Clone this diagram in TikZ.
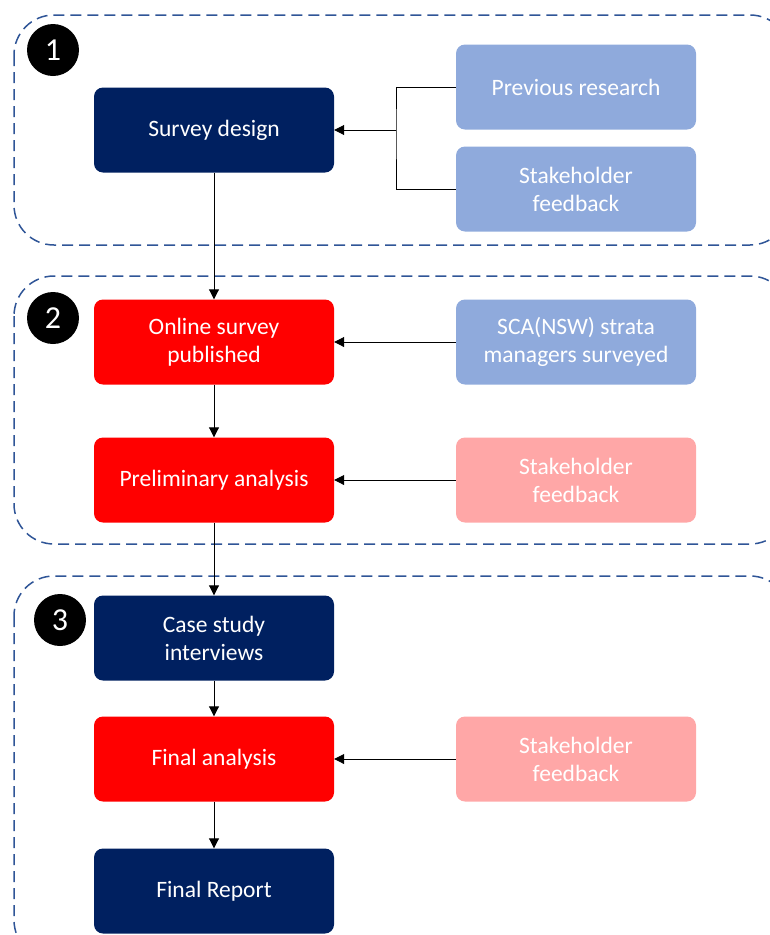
\documentclass[tikz,border=0pt]{standalone}
\usepackage{fontspec}
\setmainfont{Carlito}
\usetikzlibrary{arrows.meta}
\definecolor{navy}{HTML}{002060}
\definecolor{lblue}{HTML}{8FAADC}
\definecolor{lred}{HTML}{FFA7A7}
\definecolor{dashblue}{HTML}{2F5597}
\tikzset{
  box/.style={rounded corners=9pt, minimum width=240pt, minimum height=85pt, text=white, align=center, inner sep=0pt, font=\fontsize{23.5}{28}\selectfont},
  navybox/.style={box, fill=navy},
  redbox/.style={box, fill=red},
  bluebox/.style={box, fill=lblue},
  pinkbox/.style={box, fill=lred},
  numdot/.style={circle, fill=black, minimum size=52pt, inner sep=0pt, text=white, font=\fontsize{32}{34}\selectfont},
  group/.style={draw=dashblue, line width=1.5pt, dash pattern=on 11pt off 6pt, rounded corners=40pt},
  flow/.style={draw=black, line width=0.9pt, -{Triangle[length=10pt,width=10pt]}},
  plain/.style={draw=black, line width=0.8pt}
}
\begin{document}
\begin{tikzpicture}[x=1pt,y=-1pt]
\useasboundingbox (0,0) rectangle (770,935);
% dashed groups
\draw[group] (14,15) rectangle (790,245);
\draw[group] (14,276) rectangle (790,544);
\draw[group] (14,576) rectangle (790,960);
% numbers
\node[numdot] (n1) at (53,50) {1};
\node[numdot] (n2) at (53,318) {2};
\node[numdot] (n3) at (60,620) {3};
% main column
\node[navybox] (sd) at (214,130) {Survey design};
\node[redbox] (os) at (214,342) {Online survey\\published};
\node[redbox] (pa) at (214,480) {Preliminary analysis};
\node[navybox] (cs) at (214,638) {Case study\\interviews};
\node[redbox] (fa) at (214,759) {Final analysis};
\node[navybox] (fr) at (214,891) {Final Report};
% side column
\node[bluebox] (pr) at (576,87) {Previous research};
\node[bluebox] (sf1) at (576,189) {Stakeholder\\feedback};
\node[bluebox] (sca) at (576,342) {SCA(NSW) strata\\managers surveyed};
\node[pinkbox] (sf2) at (576,480) {Stakeholder\\feedback};
\node[pinkbox] (sf3) at (576,759) {Stakeholder\\feedback};
% connectors
\coordinate (j) at (396,130);
\draw[plain] (pr.west) -| (j) |- (sf1.west);
\draw[flow] (j) -- (sd.east);
\draw[flow] (sd.south) -- (os.north);
\draw[flow] (os.south) -- (pa.north);
\draw[flow] (pa.south) -- (cs.north);
\draw[flow] (cs.south) -- (fa.north);
\draw[flow] (fa.south) -- (fr.north);
\draw[flow] (sca.west) -- (os.east);
\draw[flow] (sf2.west) -- (pa.east);
\draw[flow] (sf3.west) -- (fa.east);
\end{tikzpicture}
\end{document}
